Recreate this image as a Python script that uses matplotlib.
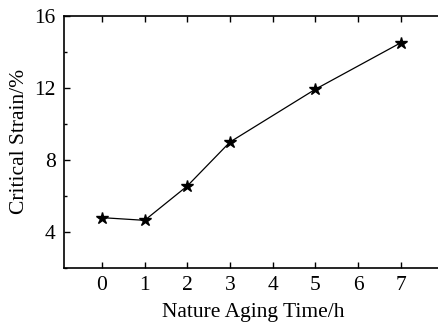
import matplotlib
matplotlib.use("Agg")
import matplotlib.pyplot as plt
from matplotlib.ticker import MultipleLocator

aging_time = [0, 1, 2, 3, 5, 7]
critical_strain = [4.78, 4.63, 6.54, 8.98, 11.91, 14.49]
x_ticks = [0, 1, 2, 3, 4, 5, 6, 7]
y_ticks = [4, 8, 12, 16]

plt.rcParams['font.family'] = ['Liberation Serif', 'DejaVu Serif']

fig = plt.figure(figsize=(4.39, 3.25), dpi=100)
ax = fig.add_axes([0.1458, 0.1763, 0.8542 + 0.01, 0.952 - 0.1763])

ax.plot(aging_time, critical_strain, color='black', lw=0.9, marker='*',
        markersize=9, markerfacecolor='black', markeredgecolor='black')

ax.set_xlim(-0.89, 8.0)
ax.set_ylim(2, 16)
ax.set_xticks(x_ticks)
ax.set_yticks(y_ticks)
ax.yaxis.set_minor_locator(MultipleLocator(2))
ax.tick_params(direction='in', which='both', top=True, right=False,
               labelsize=15.5, width=1.0, length=4, pad=6)
ax.tick_params(which='minor', length=2.5)
for s in ['left', 'bottom', 'top']:
    ax.spines[s].set_linewidth(1.2)
ax.spines['right'].set_visible(False)

ax.set_xlabel('Nature Aging Time/h', fontsize=15.5, labelpad=5.5)
ax.set_ylabel('Critical Strain/%', fontsize=15.5, labelpad=4)

fig.savefig('out.png', dpi=100)
